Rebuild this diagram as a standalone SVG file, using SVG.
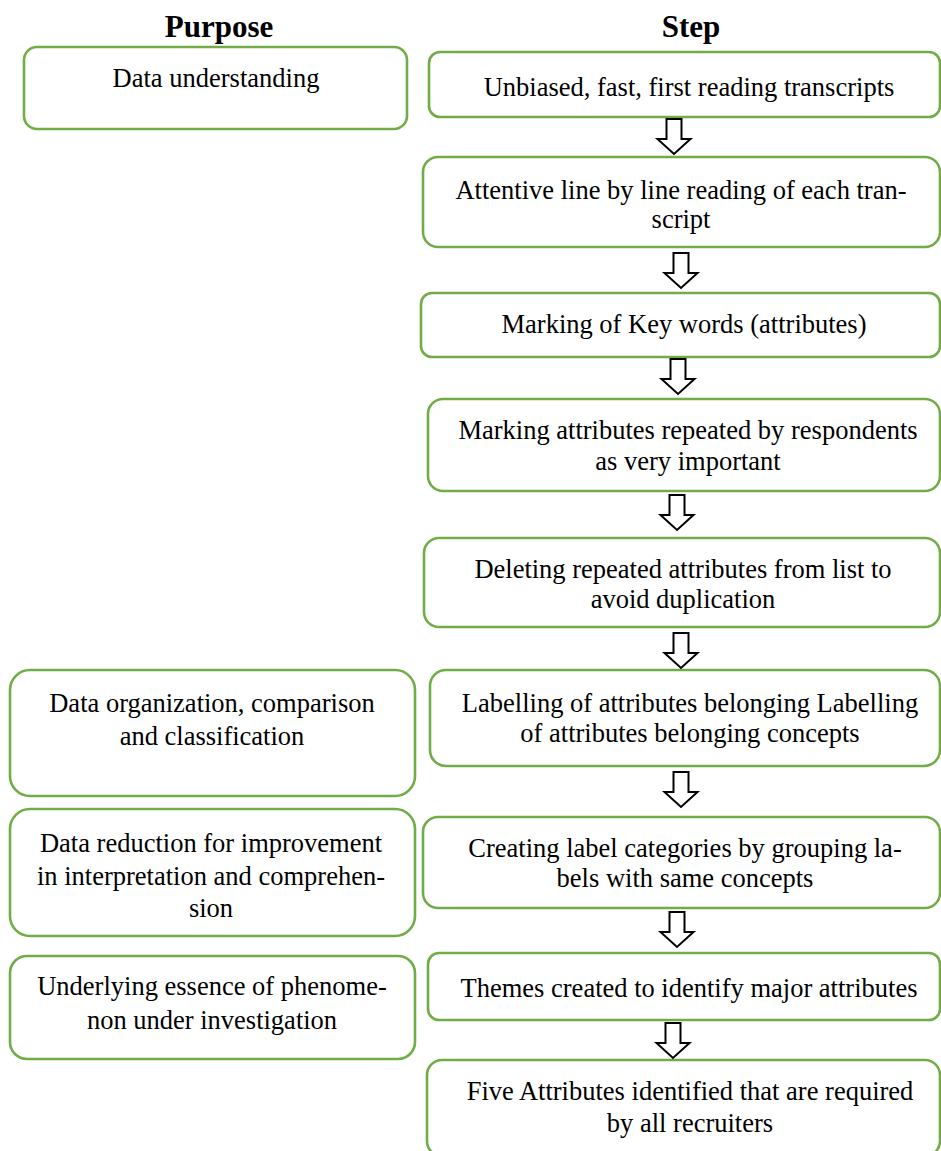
<svg xmlns="http://www.w3.org/2000/svg" width="941" height="1151" viewBox="0 0 941 1151">
<style>
.box{fill:#fff;stroke:#70AD47;stroke-width:2.6}
.t{font-family:"Liberation Serif","Times New Roman",serif;font-size:26.5px;fill:#000;text-anchor:middle}
.h{font-family:"Liberation Serif","Times New Roman",serif;font-size:31px;font-weight:bold;fill:#000;text-anchor:middle}
.arr{fill:#fff;stroke:#000;stroke-width:2;stroke-linejoin:miter}
</style>
<rect width="941" height="1151" fill="#fff"/>
<g id="headers">
<text class="h" x="219" y="37">Purpose</text>
<text class="h" x="691" y="37">Step</text>
</g>
<g id="p1"><rect class="box" x="24" y="47" width="383" height="82" rx="13"/><text class="t" x="216" y="87">Data understanding</text></g>
<g id="p2"><rect class="box" x="10" y="670" width="405" height="126" rx="20"/><text class="t" x="212" y="712">Data organization, comparison</text><text class="t" x="212" y="745">and classification</text></g>
<g id="p3"><rect class="box" x="10" y="809" width="405" height="127" rx="20"/><text class="t" x="211" y="852">Data reduction for improvement</text><text class="t" x="211" y="885">in interpretation and comprehen-</text><text class="t" x="211" y="917">sion</text></g>
<g id="p4"><rect class="box" x="10" y="956" width="405" height="103" rx="17"/><text class="t" x="212" y="995">Underlying essence of phenome-</text><text class="t" x="212" y="1029">non under investigation</text></g>
<g id="s1"><rect class="box" x="429" y="52" width="511" height="65" rx="11"/><text class="t" x="689" y="96">Unbiased, fast, first reading transcripts</text></g>
<g id="s2"><rect class="box" x="423" y="157" width="517" height="90" rx="15"/><text class="t" x="681" y="199">Attentive line by line reading of each tran-</text><text class="t" x="681" y="228">script</text></g>
<g id="s3"><rect class="box" x="421" y="293" width="519" height="64" rx="11"/><text class="t" x="684" y="333">Marking of Key words (attributes)</text></g>
<g id="s4"><rect class="box" x="428" y="399" width="512" height="92" rx="15"/><text class="t" x="688" y="439">Marking attributes repeated by respondents</text><text class="t" x="688" y="470">as very important</text></g>
<g id="s5"><rect class="box" x="424" y="538" width="516" height="89" rx="15"/><text class="t" x="683" y="578">Deleting repeated attributes from list to</text><text class="t" x="683" y="608">avoid duplication</text></g>
<g id="s6"><rect class="box" x="430" y="670" width="510" height="96" rx="16"/><text class="t" x="690" y="712">Labelling of attributes belonging Labelling</text><text class="t" x="690" y="742">of attributes belonging concepts</text></g>
<g id="s7"><rect class="box" x="423" y="817" width="517" height="91" rx="15"/><text class="t" x="685" y="857">Creating label categories by grouping la-</text><text class="t" x="685" y="887">bels with same concepts</text></g>
<g id="s8"><rect class="box" x="428" y="953" width="512" height="67" rx="11"/><text class="t" x="689" y="997">Themes created to identify major attributes</text></g>
<g id="s9"><rect class="box" x="427" y="1060" width="513" height="96" rx="15"/><text class="t" x="690" y="1100">Five Attributes identified that are required</text><text class="t" x="690" y="1132">by all recruiters</text></g>
<g id="connectors">
<path class="arr" d="M666.5,119 H681.5 V139 H690.5 L674,154 L657.5,139 H666.5 Z"/>
<path class="arr" d="M673.5,253 H688.5 V273 H697.5 L681,288 L664.5,273 H673.5 Z"/>
<path class="arr" d="M670.5,359 H685.5 V379 H694.5 L678,394 L661.5,379 H670.5 Z"/>
<path class="arr" d="M669.5,495 H684.5 V515 H693.5 L677,530 L660.5,515 H669.5 Z"/>
<path class="arr" d="M673.5,633 H688.5 V653 H697.5 L681,668 L664.5,653 H673.5 Z"/>
<path class="arr" d="M673.5,772 H688.5 V792 H697.5 L681,807 L664.5,792 H673.5 Z"/>
<path class="arr" d="M669.5,912 H684.5 V932 H693.5 L677,947 L660.5,932 H669.5 Z"/>
<path class="arr" d="M665.5,1023 H680.5 V1043 H689.5 L673,1058 L656.5,1043 H665.5 Z"/>
</g>
</svg>
